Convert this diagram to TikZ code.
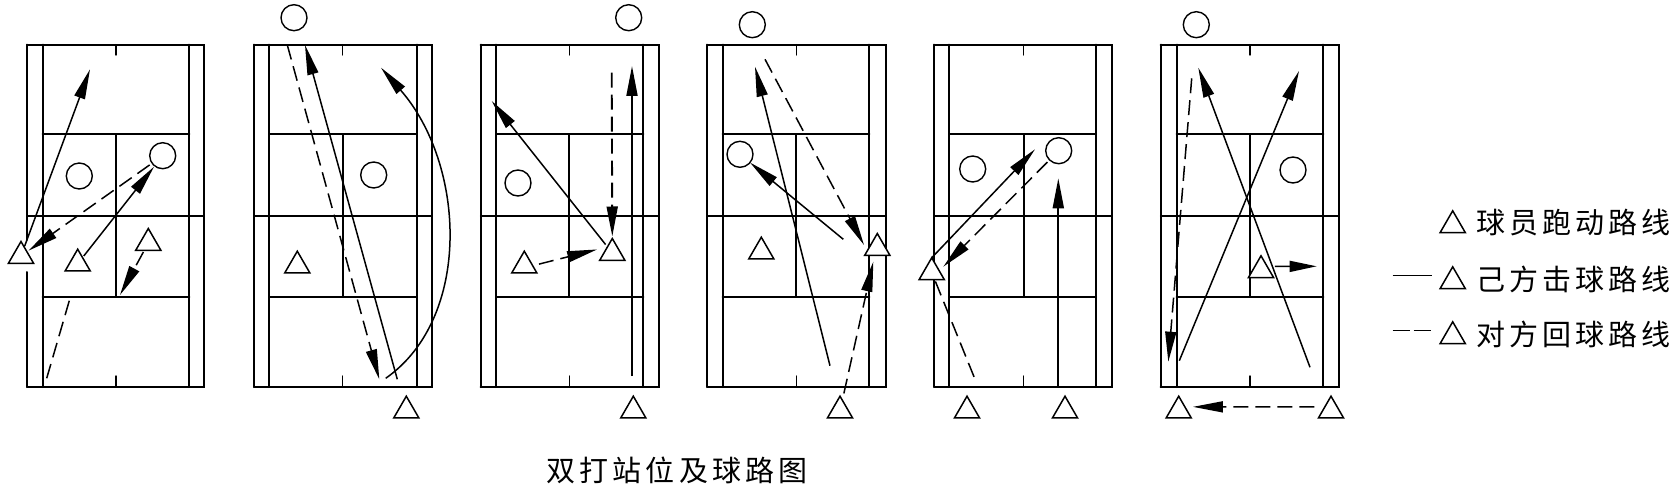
\documentclass[tikz,border=0pt]{standalone}
\usepackage{fontspec}
\usetikzlibrary{arrows.meta,shapes.geometric}
\newfontfamily\cjk[LetterSpace=14]{Noto Sans CJK SC}
\tikzset{
  courtln/.style={line width=2pt,line cap=round},
  tri/.style={regular polygon,regular polygon sides=3,minimum size=29pt,inner sep=0pt,outer sep=0pt,draw,fill=white,line width=1.5pt},
  ball/.style={circle,minimum size=26pt,inner sep=0pt,outer sep=0pt,draw,fill=white,line width=1.4pt},
  solidln/.style={line width=1.5pt},
  heavyln/.style={line width=1.9pt},
  dashln/.style={line width=1.5pt,dash pattern=on 15pt off 7pt},
  tipped/.style={-{Triangle[length=30pt,width=11pt]}},
  lab/.style={font=\cjk\fontsize{29}{33}\selectfont,inner sep=0pt}
}
% x: outer left, inner left, centre, inner right, outer right; #6: centre line width
\newcommand{\courtbox}[6]{%
  \draw[courtln] (#1,44.7) -- (#5,44.7) -- (#5,387) -- (#1,387);
  \draw[courtln] (#2,44.7) -- (#2,387);
  \draw[courtln] (#4,44.7) -- (#4,387);
  \draw[courtln] (#2,134.3) -- (#4,134.3);
  \draw[courtln] (#2,296.7) -- (#4,296.7);
  \draw[courtln,line width=1.7pt] (#1,216) -- (#5,216);
  \draw[courtln,line width=#6] (#3,134.3) -- (#3,296.7);
  \draw[courtln,line width=1.4pt] (#3,44.7) -- (#3,55);
  \draw[courtln,line width=1.4pt] (#3,376) -- (#3,387);
}
\begin{document}
\begin{tikzpicture}[x=1pt,y=-1pt]
\useasboundingbox (0,0) rectangle (1678,492);
% courts
\courtbox{27}{42.7}{116}{189.3}{204}{1.3pt}
\courtbox{254}{269.3}{342.7}{416.7}{432}{2pt}
\courtbox{480.7}{496.3}{569.3}{643.3}{658.7}{2pt}
\courtbox{707.3}{722.7}{796.3}{869.3}{885.7}{2pt}
\courtbox{934.3}{949.3}{1023.7}{1096}{1112}{2pt}
\courtbox{1160.7}{1176.7}{1250}{1323.3}{1338.7}{1.3pt}
\draw[courtln] (27,44.7) -- (27,240);
\draw[courtln] (27,272) -- (27,387);
\foreach \xl in {254,480.7,707.3,934.3,1160.7}{\draw[courtln] (\xl,44.7) -- (\xl,387);}
% players
\node[tri] (t1a) at (21,256) {};
\node[tri] (t1b) at (77.7,263.7) {};
\node[tri] (t1c) at (148.3,243) {};
\node[tri] (t2a) at (297.3,265.7) {};
\node[tri] (t2b) at (406.3,410.7) {};
\node[tri] (t3a) at (524.3,265.7) {};
\node[tri] (t3b) at (612.3,253) {};
\node[tri] (t3c) at (633.3,410.7) {};
\node[tri] (t4a) at (761.3,251.7) {};
\node[tri] (t4b) at (877.3,248) {};
\node[tri] (t4c) at (840,410.7) {};
\node[tri] (t5a) at (931.7,272.3) {};
\node[tri] (t5b) at (967,410.7) {};
\node[tri] (t5c) at (1065,410.7) {};
\node[tri] (t6a) at (1261,270.3) {};
\node[tri] (t6b) at (1178.7,410.7) {};
\node[tri] (t6c) at (1331,410.7) {};
\node[ball] (c1a) at (79.3,176) {};
\node[ball] (c1b) at (162.7,155.7) {};
\node[ball] (c2a) at (294,17.7) {};
\node[ball] (c2b) at (373.7,175) {};
\node[ball] (c3a) at (628.7,17.7) {};
\node[ball] (c3b) at (518,183) {};
\node[ball] (c4a) at (752.3,24.7) {};
\node[ball] (c4b) at (740,154.3) {};
\node[ball] (c5a) at (972.7,169) {};
\node[ball] (c5b) at (1058.7,150.7) {};
\node[ball] (c6a) at (1196.3,24.7) {};
\node[ball] (c6b) at (1293,170) {};
% free ends
\coordinate (e1) at (90,69.3);
\coordinate (e2) at (120,295);
\coordinate (e3a) at (69.3,300.7);
\coordinate (e3b) at (46.7,378.3);
\coordinate (e4a) at (287.3,45);
\coordinate (e4b) at (379.3,379.3);
\coordinate (e5a) at (397.3,379.3);
\coordinate (e5b) at (305,45);
\coordinate (e6a) at (385.7,378.3);
\coordinate (e6b) at (381,67.7);
\coordinate (e7) at (491.7,101);
\coordinate (e8) at (611.7,72.7);
\coordinate (e9a) at (632,376);
\coordinate (e9b) at (632,66);
\coordinate (e10a) at (830,365.7);
\coordinate (e10b) at (755,66.7);
\coordinate (e11a) at (765,59.3);
\coordinate (e11b) at (864,245);
\coordinate (e12) at (843.3,239.3);
\coordinate (e13) at (873.3,261.7);
\coordinate (e14) at (1035,149.3);
\coordinate (e15) at (943.3,266.7);
\coordinate (e16) at (976,381.7);
\coordinate (e17a) at (1058.3,386.7);
\coordinate (e17b) at (1058.3,178.3);
\coordinate (e18a) at (1310,367.3);
\coordinate (e18b) at (1198.3,67.7);
\coordinate (e19a) at (1179.3,360.7);
\coordinate (e19b) at (1299,71);
\coordinate (e20a) at (1191.7,78.3);
\coordinate (e20b) at (1168.3,361.7);
\coordinate (e21) at (1316.7,266.3);
% court 1
\draw[solidln,tipped,shorten <=1pt] (t1a) -- (e1);
\draw[dashln,tipped,shorten <=3pt,shorten >=2pt] (c1b) -- (t1a);
\draw[solidln,tipped,shorten <=2pt,shorten >=1pt] (t1b) -- (c1b);
\draw[dashln,tipped,shorten <=2pt] (t1c) -- (e2);
\draw[dashln] (e3a) -- (e3b);
% court 2
\draw[dashln,tipped] (e4a) -- (e4b);
\draw[solidln,tipped] (e5a) -- (e5b);
\draw[solidln,tipped] (e6a) .. controls (472,318) and (466,165) .. (e6b);
% court 3
\draw[solidln,tipped,shorten <=3pt] (t3b) -- (e7);
\draw[dashln,heavyln,tipped,shorten >=2pt] (e8) -- (t3b.north);
\draw[dashln,tipped,shorten <=6.5pt,shorten >=10.7pt] (t3a.0) -- (t3b.128);
\draw[heavyln,tipped] (e9a) -- (e9b);
% court 4
\draw[solidln,tipped] (e10a) -- (e10b);
\draw[dashln,tipped] (e11a) -- (e11b);
\draw[solidln,tipped] (e12) -- (c4b);
\draw[dashln,tipped,shorten <=7pt] (t4c) -- (e13);
% court 5
\draw[solidln,tipped] (t5a.north) -- (e14);
\draw[dashln,tipped,shorten <=3pt] (c5b) -- (e15);
\draw[dashln,shorten <=2pt] (t5a) -- (e16);
\draw[heavyln,tipped] (e17a) -- (e17b);
% court 6
\draw[solidln,tipped] (e18a) -- (e18b);
\draw[solidln,tipped] (e19a) -- (e19b);
\draw[dashln,tipped] (e20a) -- (e20b);
\draw[dashln,-{Triangle[length=27pt,width=11pt]},shorten <=7.6pt] (t6a.32) -- (e21);
\draw[dashln,tipped,shorten <=10.6pt,shorten >=8pt] (t6c.148) -- (t6b.32);
% legend
\node[tri] (k1) at (1452.7,225.3) {};
\node[tri] (k2) at (1452.7,281.3) {};
\node[tri] (k3) at (1452.7,336.3) {};
\node[lab,anchor=east] (x1) at (1671,223) {球员跑动路线};
\node[lab,anchor=east] (x2) at (1671,279) {己方击球路线};
\node[lab,anchor=east] (x3) at (1671,334) {对方回球路线};
\coordinate (l2a) at (1392.7,275.7);
\coordinate (l2b) at (1431.7,275.7);
\coordinate (l3a) at (1392.7,330.7);
\coordinate (l3b) at (1431.7,330.7);
\draw[solidln] (l2a) -- (l2b);
\draw[solidln,dash pattern=on 17pt off 4pt] (l3a) -- (l3b);
\node[lab] (title) at (677,470) {双打站位及球路图};
\end{tikzpicture}
\end{document}
